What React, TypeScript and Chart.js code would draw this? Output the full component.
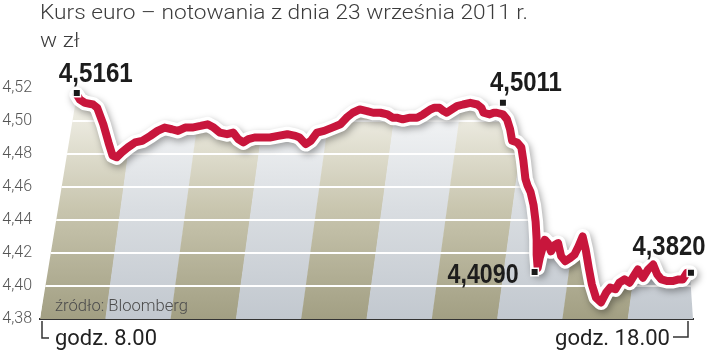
import React, { useEffect, useRef } from 'react';
import { Chart, registerables } from 'chart.js';

Chart.register(...registerables);

// ---- data ----
const titleLines = ['Kurs euro – notowania z dnia 23 września 2011 r.', 'w zł'];
const sourceNote = 'źródło: Bloomberg';
const startLabel = 'godz. 8.00';
const endLabel = 'godz. 18.00';
const yTicks = [4.38, 4.4, 4.42, 4.44, 4.46, 4.48, 4.5, 4.52];
const hourStripes = 10;

// minutes after 8:00
const minutes = [
  0, 3, 8, 16, 20, 26, 31, 35, 39, 44, 50, 57, 64, 72, 79, 86, 93, 99, 106, 113,
  121, 128, 134, 140, 147, 153, 158, 163, 168, 174, 182, 189, 197, 206, 214, 218, 224, 229, 235, 242,
  250, 258, 264, 270, 277, 284, 290, 297, 304, 309, 313, 319, 326, 333, 339, 346, 350, 355, 359, 362,
  367, 372, 378, 385, 392, 396, 398, 404, 408, 411, 417, 421, 424, 426, 431, 435, 437, 439, 441, 444,
  447, 449, 450, 450, 451, 453, 458, 461, 464, 468, 471, 474, 478, 483, 487, 491, 495, 498, 501, 504,
  508, 513, 518, 522, 527, 531, 536, 541, 546, 549, 554, 559, 564, 568, 572, 578, 583, 589, 593, 597,
  600,
];
const rates = [
  4.516, 4.513, 4.511, 4.51, 4.508, 4.498, 4.487, 4.479, 4.478, 4.481, 4.484, 4.487, 4.488, 4.491, 4.494, 4.496, 4.495, 4.494, 4.496, 4.496,
  4.497, 4.498, 4.496, 4.493, 4.492, 4.493, 4.489, 4.487, 4.489, 4.49, 4.49, 4.49, 4.491, 4.492, 4.491, 4.49, 4.486, 4.488, 4.493, 4.494,
  4.496, 4.498, 4.502, 4.505, 4.507, 4.506, 4.505, 4.505, 4.504, 4.502, 4.502, 4.501, 4.502, 4.502, 4.504, 4.507, 4.508, 4.508, 4.506, 4.505,
  4.507, 4.509, 4.51, 4.511, 4.51, 4.508, 4.505, 4.504, 4.505, 4.505, 4.504, 4.501, 4.495, 4.488, 4.487, 4.484, 4.476, 4.465, 4.461, 4.457,
  4.449, 4.439, 4.428, 4.419, 4.411, 4.417, 4.428, 4.426, 4.421, 4.425, 4.426, 4.418, 4.415, 4.417, 4.419, 4.424, 4.43, 4.422, 4.411, 4.401,
  4.393, 4.39, 4.396, 4.399, 4.398, 4.402, 4.404, 4.402, 4.407, 4.41, 4.405, 4.41, 4.413, 4.407, 4.404, 4.403, 4.403, 4.404, 4.404, 4.408,
  4.408,
];

const markerMinutes = [0, 417, 448, 601];
const markerRates = [4.517, 4.511, 4.4085, 4.408];
const markerLabels = ['4,5161', '4,5011', '4,4090', '4,3820'];

// ---- styling (not data) ----
const labelPlacement = [
  { dx: 19, dy: -11, align: 'center', w: 74 },
  { dx: 23, dy: -12, align: 'center', w: 72 },
  { dx: -16, dy: 11, align: 'right', w: 71 },
  { dx: -22, dy: -18, align: 'center', w: 73 },
];

function drawFit(
  ctx: CanvasRenderingContext2D,
  text: string,
  x: number,
  y: number,
  font: string,
  color: string,
  align: CanvasTextAlign,
  width?: number,
) {
  ctx.save();
  ctx.font = font;
  ctx.fillStyle = color;
  ctx.textBaseline = 'alphabetic';
  ctx.textAlign = align;
  const m = ctx.measureText(text).width;
  const sx = width ? width / m : 1;
  ctx.translate(x, y);
  ctx.scale(sx, 1);
  ctx.fillText(text, 0, 0);
  ctx.restore();
  return sx;
}

const artPlugin = {
  id: 'art',
  beforeDatasetsDraw(chart: any) {
    const { ctx, chartArea: ca, scales } = chart;
    const yScale = scales.y;
    const pts = chart.getDatasetMeta(1).data;
    if (!pts.length) return;
    ctx.save();
    ctx.beginPath();
    ctx.moveTo(ca.left, ca.bottom);
    pts.forEach((p: any) => ctx.lineTo(p.x, p.y));
    ctx.lineTo(ca.right, ca.bottom);
    ctx.closePath();
    ctx.clip();

    const w = (ca.right - ca.left) / hourStripes;
    const H = ca.bottom - ca.top + 20;
    const k = 0.137;
    for (let i = 0; i < hourStripes; i++) {
      const x0 = ca.left + i * w;
      const x1 = x0 + w;
      const g = ctx.createLinearGradient(0, ca.bottom, 0, ca.top + 12);
      if (i % 2 === 0) {
        g.addColorStop(0, '#a29f83');
        g.addColorStop(0.5, '#c8c5ae');
        g.addColorStop(1, '#f3f2ea');
      } else {
        g.addColorStop(0, '#c2c8cf');
        g.addColorStop(0.5, '#d9dde1');
        g.addColorStop(1, '#f6f7f8');
      }
      ctx.fillStyle = g;
      ctx.beginPath();
      ctx.moveTo(x0, ca.bottom);
      ctx.lineTo(x1 + 0.5, ca.bottom);
      ctx.lineTo(x1 + 0.5 + k * H, ca.bottom - H);
      ctx.lineTo(x0 + k * H, ca.bottom - H);
      ctx.closePath();
      ctx.fill();
    }
    ctx.strokeStyle = '#ffffff';
    ctx.lineWidth = 2;
    yTicks.slice(1).forEach((v) => {
      const py = Math.round(yScale.getPixelForValue(v));
      ctx.beginPath();
      ctx.moveTo(ca.left, py);
      ctx.lineTo(ca.right, py);
      ctx.stroke();
    });
    ctx.restore();

    drawFit(ctx, sourceNote, ca.left + 15, ca.bottom - 8, '300 17px Roboto, "Liberation Sans", sans-serif', '#4d4d4d', 'left', 133);
  },
  beforeDatasetDraw(chart: any, args: any) {
    if (args.index === 2) {
      const ctx = chart.ctx;
      ctx.save();
      ctx.shadowColor = 'rgba(0,0,0,0.35)';
      ctx.shadowBlur = 7;
      ctx.shadowOffsetX = 2;
      ctx.shadowOffsetY = 3;
    }
  },
  afterDatasetDraw(chart: any, args: any) {
    if (args.index === 2) chart.ctx.restore();
  },
  afterDatasetsDraw(chart: any) {
    const { ctx, chartArea: ca } = chart;
    const mpts = chart.getDatasetMeta(0).data;
    mpts.forEach((p: any, i: number) => {
      const pl = labelPlacement[i];
      drawFit(ctx, markerLabels[i], p.x + pl.dx, p.y + pl.dy, 'bold 27px "Liberation Sans", Arial, sans-serif', '#1c1c1c', pl.align as CanvasTextAlign, pl.w);
    });

    // title
    const sx = drawFit(ctx, titleLines[0], 40, 19, '300 20px Roboto, "Liberation Sans", sans-serif', '#3c3c3c', 'left', 488);
    ctx.save();
    ctx.font = '300 20px Roboto, "Liberation Sans", sans-serif';
    ctx.fillStyle = '#3c3c3c';
    ctx.translate(40, 47);
    ctx.scale(sx, 1);
    ctx.fillText(titleLines[1], 0, 0);
    ctx.restore();

    // x-axis end labels and brackets
    ctx.save();
    ctx.strokeStyle = '#333';
    ctx.lineWidth = 1.5;
    ctx.beginPath();
    ctx.moveTo(ca.left + 2, ca.bottom + 2);
    ctx.lineTo(ca.left + 2, ca.bottom + 19);
    ctx.lineTo(ca.left + 9, ca.bottom + 19);
    ctx.moveTo(ca.right - 5, ca.bottom + 2);
    ctx.lineTo(ca.right - 5, ca.bottom + 18);
    ctx.lineTo(ca.right - 20, ca.bottom + 18);
    ctx.stroke();
    ctx.restore();
    drawFit(ctx, startLabel, ca.left + 15, ca.bottom + 26, '22px Roboto, "Liberation Sans", sans-serif', '#222', 'left', 102);
    drawFit(ctx, endLabel, ca.right - 23, ca.bottom + 26, '22px Roboto, "Liberation Sans", sans-serif', '#222', 'right', 115);
  },
};

export default function App() {
  const ref = useRef<HTMLCanvasElement | null>(null);
  useEffect(() => {
    document.body.style.margin = '0';
    const canvas = ref.current;
    if (!canvas) return;
    const lineData = minutes.map((m, i) => ({ x: m, y: rates[i] }));
    const markerData = markerMinutes.map((m, i) => ({ x: m, y: markerRates[i] }));
    const chart = new Chart(canvas, {
      type: 'line',
      data: {
        datasets: [
          {
            data: markerData,
            showLine: false,
            pointStyle: 'rect',
            pointRadius: 5.3,
            pointBackgroundColor: '#1a1a1a',
            pointBorderColor: '#ffffff',
            pointBorderWidth: 1.5,
            clip: false,
          } as any,
          {
            data: lineData,
            borderColor: '#c8163c',
            borderWidth: 8,
            pointRadius: 0,
            tension: 0,
            borderJoinStyle: 'round',
            borderCapStyle: 'round',
            fill: false,
            clip: false,
          } as any,
          {
            data: lineData,
            borderColor: '#ffffff',
            borderWidth: 15,
            pointRadius: 0,
            tension: 0,
            borderJoinStyle: 'round',
            borderCapStyle: 'round',
            fill: false,
            clip: false,
          } as any,
        ],
      },
      options: {
        responsive: false,
        animation: false,
        devicePixelRatio: 1,
        layout: { padding: { top: 88, right: 27, left: 0, bottom: 0 } },
        plugins: {
          legend: { display: false },
          tooltip: { enabled: false },
          title: { display: false },
        },
        scales: {
          x: {
            type: 'linear',
            min: -36,
            max: 603,
            ticks: { display: false },
            grid: { display: false, drawTicks: false },
            border: { display: true, color: '#333333', width: 2 },
            afterFit: (s: any) => {
              s.height = 37;
            },
          },
          y: {
            min: 4.38,
            max: 4.52,
            afterBuildTicks: (s: any) => {
              s.ticks = yTicks.map((v) => ({ value: v }));
            },
            ticks: {
              callback: (v: any) => Number(v).toFixed(2).replace('.', ','),
              font: { family: 'Roboto, "Liberation Sans", sans-serif', size: 16, weight: 300 as any },
              color: '#555555',
              padding: 8,
            },
            grid: { display: false, drawTicks: false },
            border: { display: false },
            afterFit: (s: any) => {
              s.width = 40;
            },
          },
        },
      } as any,
      plugins: [artPlugin],
    });
    return () => chart.destroy();
  }, []);
  return (
    <div style={{ width: 720, height: 356, position: 'relative' }}>
      <canvas ref={ref} width={720} height={356} style={{ display: 'block' }} />
    </div>
  );
}
